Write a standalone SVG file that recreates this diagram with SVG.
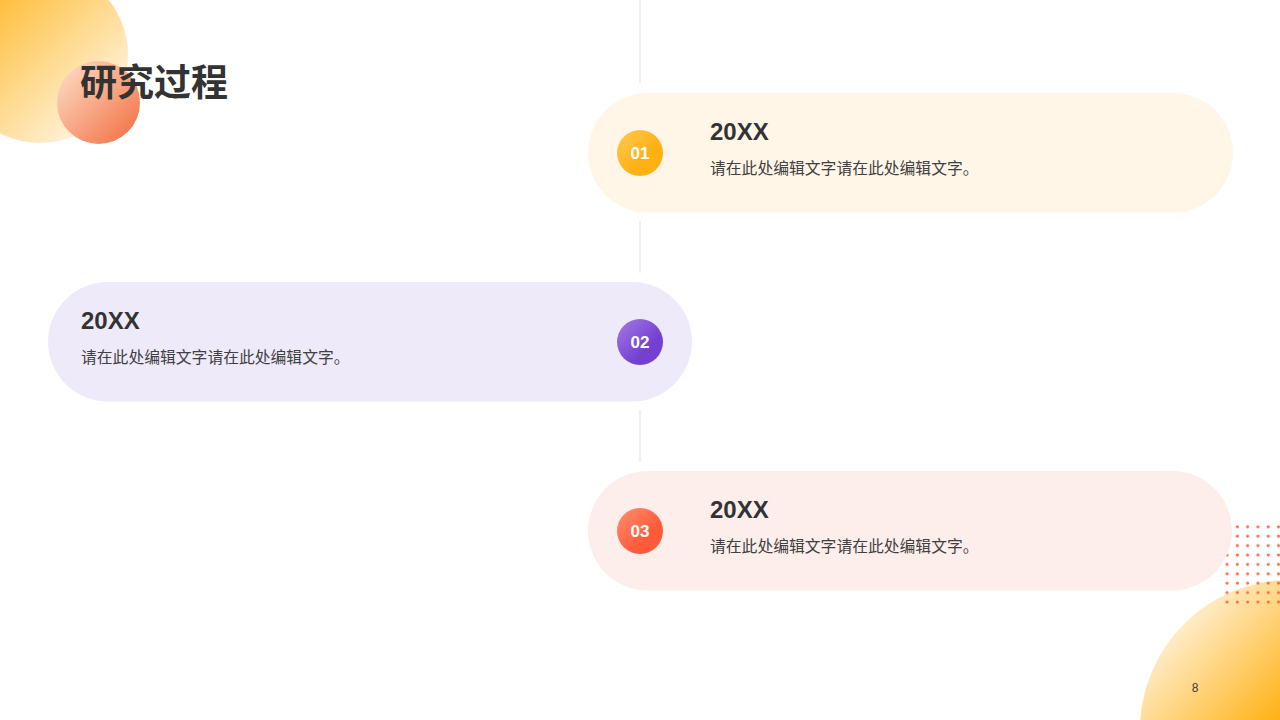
<svg xmlns="http://www.w3.org/2000/svg" width="1280" height="720" viewBox="0 0 1280 720">
<defs>
<linearGradient id="gBig" x1="0" y1="0" x2="1" y2="1"><stop offset="0.05" stop-color="#FFB010"/><stop offset="0.85" stop-color="#FFF3DC"/></linearGradient>
<linearGradient id="gSmall" x1="0" y1="0" x2="1" y2="1"><stop offset="0" stop-color="#FDE3CC"/><stop offset="1" stop-color="#F26A3E"/></linearGradient>
<linearGradient id="gBR" gradientUnits="userSpaceOnUse" x1="1165" y1="610" x2="1285" y2="725"><stop offset="0" stop-color="#FFF6E6"/><stop offset="1" stop-color="#FFAE0A"/></linearGradient>
<linearGradient id="g1" x1="0" y1="0" x2="1" y2="1"><stop offset="0" stop-color="#FFCB55"/><stop offset="0.6" stop-color="#FFB114"/></linearGradient>
<linearGradient id="g2" x1="0" y1="0" x2="1" y2="1"><stop offset="0" stop-color="#A57BE3"/><stop offset="0.65" stop-color="#7440D2"/></linearGradient>
<linearGradient id="g3" x1="0" y1="0" x2="1" y2="1"><stop offset="0" stop-color="#FF9070"/><stop offset="0.65" stop-color="#FF5A3A"/></linearGradient>
<pattern id="dots" x="1222" y="522" width="10.3" height="9.4" patternUnits="userSpaceOnUse"><circle cx="5" cy="4.8" r="1.6" fill="#FF6A45"/></pattern>
</defs>
<style>
.yr{font-family:"Liberation Sans",Arial,sans-serif;font-weight:bold;font-size:24px;fill:#333333}
.bd{font-family:"Noto Sans CJK SC","Liberation Sans",sans-serif;font-size:15.8px;fill:#404040}
.num{font-family:"Liberation Sans",Arial,sans-serif;font-weight:bold;font-size:17px;fill:#ffffff;text-anchor:middle}
.vl{stroke:#EBEBEB;stroke-width:1.5}
</style>
<rect width="1280" height="720" fill="#ffffff"/>
<g id="decor">
<circle cx="40" cy="55" r="88" fill="url(#gBig)"/>
<circle cx="98.5" cy="102.5" r="41.5" fill="url(#gSmall)"/>
<circle cx="1290" cy="730" r="150" fill="url(#gBR)"/>
<rect x="1222" y="522" width="58" height="85" fill="url(#dots)"/>
</g>
<text id="title" x="80" y="96" font-family="Noto Sans CJK SC,sans-serif" font-weight="bold" font-size="37" fill="#333333">研究过程</text>
<g id="connectors">
<line class="vl" x1="640" y1="0" x2="640" y2="83"/>
<line class="vl" x1="640" y1="221" x2="640" y2="273"/>
<line class="vl" x1="640" y1="410" x2="640" y2="462"/>
</g>
<g id="step1">
<rect x="588" y="93" width="645" height="119.5" rx="59.75" fill="#FFF6E7"/>
<circle cx="640" cy="153" r="23" fill="url(#g1)"/>
<text class="num" x="640" y="159">01</text>
<text class="yr" x="710" y="140">20XX</text>
<text class="bd" x="710" y="174">请在此处编辑文字请在此处编辑文字。</text>
</g>
<g id="step2">
<rect x="48" y="282" width="644" height="119.5" rx="59.75" fill="#EFEAFA"/>
<circle cx="640" cy="342" r="23" fill="url(#g2)"/>
<text class="num" x="640" y="348">02</text>
<text class="yr" x="81" y="329">20XX</text>
<text class="bd" x="81" y="363">请在此处编辑文字请在此处编辑文字。</text>
</g>
<g id="step3">
<rect x="588" y="471" width="644" height="119.5" rx="59.75" fill="#FDEEEB"/>
<circle cx="640" cy="531" r="23" fill="url(#g3)"/>
<text class="num" x="640" y="537">03</text>
<text class="yr" x="710" y="518">20XX</text>
<text class="bd" x="710" y="552">请在此处编辑文字请在此处编辑文字。</text>
</g>
<text id="page" x="1195" y="692" font-family="Liberation Sans,Arial,sans-serif" font-size="12" fill="#404040" text-anchor="middle">8</text>
</svg>
